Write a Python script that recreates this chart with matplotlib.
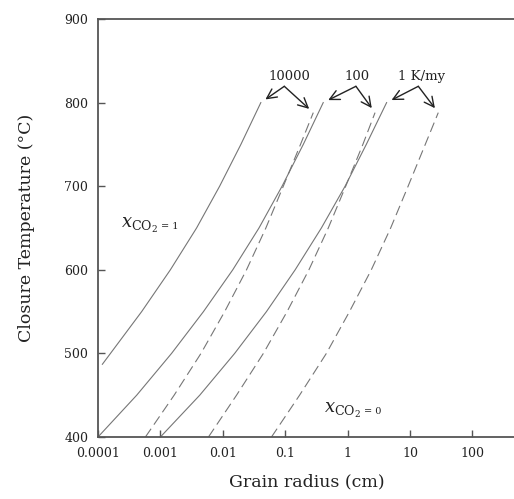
import matplotlib
matplotlib.use("Agg")
import matplotlib.pyplot as plt
from matplotlib.ticker import FixedLocator, FixedFormatter, NullLocator

plt.rcParams["font.family"] = ["DejaVu Serif"]
plt.rcParams["mathtext.fontset"] = "dejavuserif"

# closure temperature (deg C) vs grain radius (cm)
# solid: xCO2 = 1, dashed: xCO2 = 0 ; cooling rates 10000, 100, 1 K/my
t_s1 = [487, 500, 550, 600, 650, 700, 750, 800]
r_s1 = [1.175e-4, 1.585e-4, 5.01e-4, 1.445e-3, 3.8e-3, 8.9e-3, 0.0195, 0.0407]

t_s2 = [400, 450, 500, 550, 600, 650, 700, 750, 800]
r_s2 = [1.0e-4, 4.17e-4, 1.51e-3, 4.9e-3, 0.01445, 0.038, 0.0891, 0.195, 0.407]

t_s3 = [400, 450, 500, 550, 600, 650, 700, 750, 800]
r_s3 = [1.0e-3, 4.27e-3, 0.0155, 0.0501, 0.1445, 0.38, 0.912, 1.995, 4.22]

t_d = [400, 450, 500, 550, 600, 650, 700, 750, 788]
r_d1 = [5.75e-4, 1.66e-3, 4.47e-3, 0.01072, 0.024, 0.049, 0.0933, 0.176, 0.282]
r_d2 = [5.89e-3, 0.0166, 0.0447, 0.1072, 0.24, 0.49, 0.933, 1.758, 2.754]
r_d3 = [0.0603, 0.17, 0.457, 1.072, 2.4, 4.9, 9.33, 17.58, 28.4]

rate_labels = ["10000", "100", "1 K/my"]

x_ticks = [1e-4, 1e-3, 1e-2, 1e-1, 1, 10, 100]
x_ticklabels = ["0.0001", "0.001", "0.01", "0.1", "1", "10", "100"]
y_ticks = [400, 500, 600, 700, 800, 900]

W, H = 514, 499
fig = plt.figure(figsize=(W / 100, H / 100), dpi=100)
ax = fig.add_axes([98 / W, (H - 437) / H, (516 - 98) / W, (437 - 19) / H])

line_col = "#767676"
ax.plot(r_s1, t_s1, color=line_col, lw=0.8)
ax.plot(r_s2, t_s2, color=line_col, lw=0.8)
ax.plot(r_s3, t_s3, color=line_col, lw=0.8)
for r in (r_d1, r_d2, r_d3):
    ax.plot(r, t_d, color=line_col, lw=0.8, ls=(0, (9, 4.5)))

ax.set_xscale("log")
ax.set_xlim(1e-4, 500)
ax.set_ylim(400, 900)
ax.xaxis.set_major_locator(FixedLocator(x_ticks))
ax.xaxis.set_major_formatter(FixedFormatter(x_ticklabels))
ax.xaxis.set_minor_locator(NullLocator())
ax.set_yticks(y_ticks)

spine_col = "#555555"
for side in ("left", "bottom", "top"):
    ax.spines[side].set_color(spine_col)
    ax.spines[side].set_linewidth(1.3)
ax.spines["right"].set_visible(False)
ax.tick_params(direction="in", length=5, width=1, color=spine_col,
               labelsize=9, labelcolor="#222222", top=False, right=False)
ax.tick_params(axis="x", pad=7)
ax.tick_params(axis="y", pad=7)

ax.set_xlabel("Grain radius (cm)", fontsize=12.5, color="#222222", labelpad=10)
ax.set_ylabel("Closure Temperature (°C)", fontsize=12.5, color="#222222", labelpad=21)

# rate labels with arrows pointing to the curve ends
solid_ends = [(r_s1[-1], t_s1[-1]), (r_s2[-1], t_s2[-1]), (r_s3[-1], t_s3[-1])]
dash_ends = [(r_d1[-1], t_d[-1]), (r_d2[-1], t_d[-1]), (r_d3[-1], t_d[-1])]
apex_r = [0.0968, 1.36, 13.6]
label_r = [0.117, 1.39, 15.3]
for lab, ar, lr, se, de in zip(rate_labels, apex_r, label_r, solid_ends, dash_ends):
    ax.text(lr, 831, lab, fontsize=9.5, ha="center", va="center", color="#222222")
    for end in (se, de):
        ax.annotate("", xy=end, xytext=(ar, 819.5),
                    arrowprops=dict(arrowstyle="->,head_length=0.7,head_width=0.35",
                                    color="#222222", lw=1.0, shrinkA=0, shrinkB=4,
                                    mutation_scale=10))

t1 = ax.text(2.35e-4, 653, r"$x_{\mathrm{CO_2}}$", fontsize=13, ha="left", va="center",
             color="#222222")
ax.annotate("= 1", xy=(1.0, 0.45), xycoords=t1, xytext=(2, 0), textcoords="offset points",
            fontsize=7, ha="left", va="center", color="#222222")
t0 = ax.text(0.42, 432, r"$x_{\mathrm{CO_2}}$", fontsize=13, ha="left", va="center",
             color="#222222")
ax.annotate("= 0", xy=(1.0, 0.45), xycoords=t0, xytext=(2, 0), textcoords="offset points",
            fontsize=7, ha="left", va="center", color="#222222")

fig.savefig("out.png", dpi=100)
